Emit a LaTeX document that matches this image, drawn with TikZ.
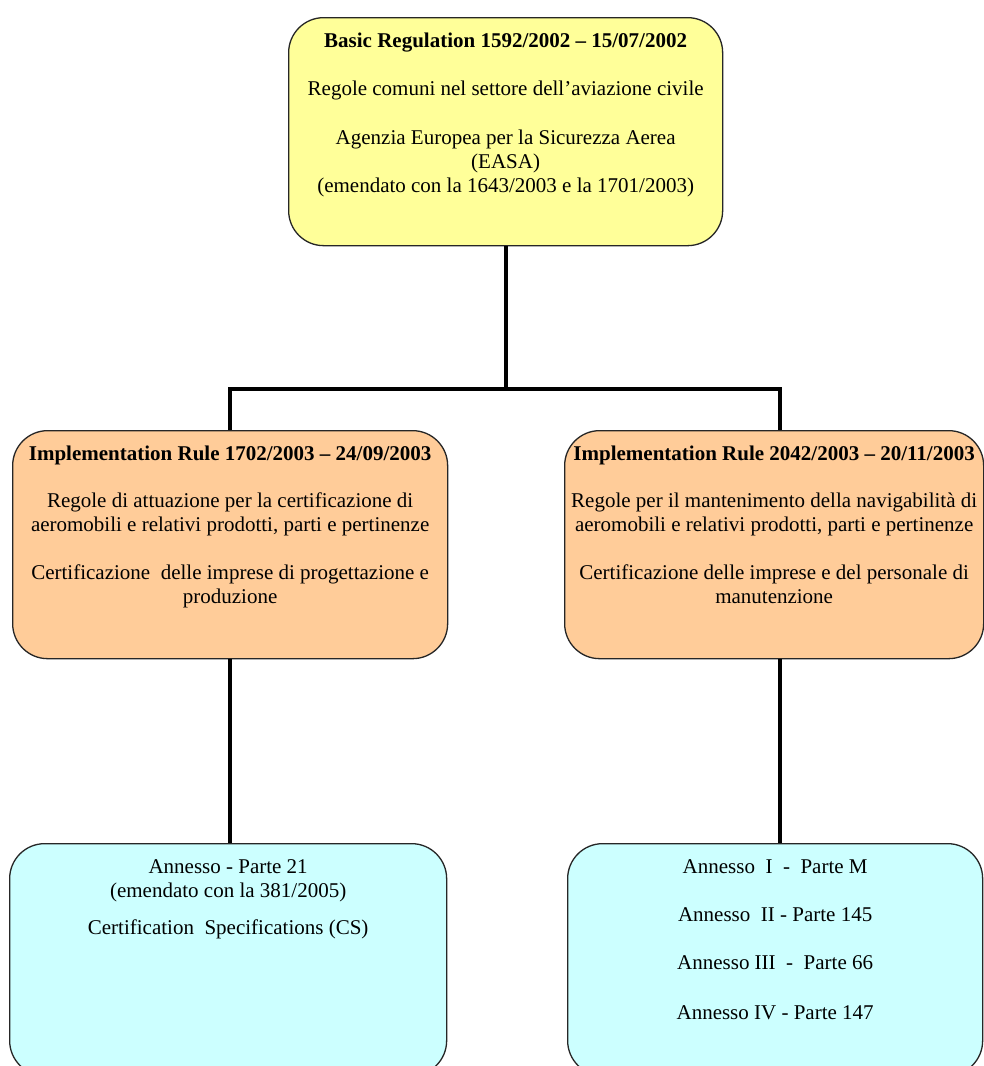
\documentclass[tikz,border=0pt]{standalone}
\usepackage{fontspec}
\setmainfont{Liberation Serif}
\usepackage{tikz}

\definecolor{regyellow}{HTML}{FFFF99}
\definecolor{regorange}{HTML}{FFCC99}
\definecolor{regblue}{HTML}{CCFFFF}
\newcommand{\boxbody}[3]{\parbox[t][#2][t]{#1}{\centering\rule{0pt}{30pt}#3}}
\tikzset{
  regbox/.style={draw=black!85, line width=1.3pt, rounded corners=35pt, inner sep=0pt,
    anchor=north west, font=\fontsize{21}{24}\selectfont},
  link/.style={line width=4pt, black}
}

\begin{document}
\begin{tikzpicture}[x=1pt,y=1pt]
            \clip (0,0) rectangle (984,-1066);
            \fill[white] (0,0) rectangle (984,-1066);
            \node[regbox, fill=regyellow] (basic) at (288,-17) {\boxbody{434pt}{228pt}{\textbf{Basic Regulation 1592/2002 – 15/07/2002}\\[24pt]
              Regole comuni nel settore dell’aviazione civile\\[25pt]
              Agenzia Europea per la Sicurezza Aerea\\ (EASA)\\ (emendato con la 1643/2003 e la 1701/2003)}};
            \node[regbox, fill=regorange] (impla) at (12,-430) {\boxbody{435pt}{228pt}{\textbf{Implementation Rule 1702/2003 – 24/09/2003}\\[23pt]
              Regole di attuazione per la certificazione di\\ aeromobili e relativi prodotti, parti e pertinenze\\[24pt]
              Certificazione\ \ delle imprese di progettazione e\\ produzione}};
            \node[regbox, fill=regorange] (implb) at (564,-430) {\boxbody{419pt}{228pt}{\textbf{Implementation Rule 2042/2003 – 20/11/2003}\\[23pt]
              Regole per il mantenimento della navigabilità di\\ aeromobili e relativi prodotti, parti e pertinenze\\[24pt]
              Certificazione delle imprese e del personale di\\ manutenzione}};
            \node[regbox, fill=regblue] (annexa) at (9,-843) {\boxbody{437pt}{232pt}{Annesso - Parte 21\\ (emendato con la 381/2005)\\[13pt]
              Certification\ \ Specifications (CS)}};
            \node[regbox, fill=regblue] (annexb) at (567,-843) {\boxbody{415pt}{232pt}{Annesso\ \ I\ \ -\ \ Parte M\\[24pt]
              Annesso\ \ II - Parte 145\\[24pt]
              Annesso III\ \ -\ \ Parte 66\\[26pt]
              Annesso IV - Parte 147}};
            \coordinate (busl) at (230,-389);
            \coordinate (busr) at (780,-389);
            \draw[link] (basic.south) -- (basic.south |- busl);
            \draw[link] (busl |- impla.north) -- (busl) -- (busr) -- (busr |- implb.north);
            \draw[link] (impla.south -| busl) -- (annexa.north -| busl);
            \draw[link] (implb.south -| busr) -- (annexb.north -| busr);
        \end{tikzpicture}
\end{document}
